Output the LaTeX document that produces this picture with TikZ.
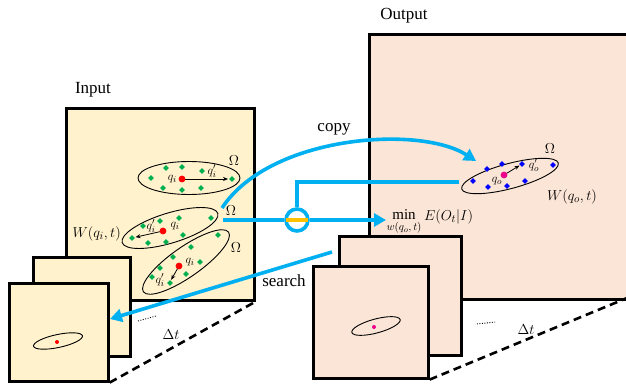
\documentclass[tikz,border=0pt]{standalone}
\usepackage{fontspec}
\setmainfont{Liberation Serif}
\usetikzlibrary{arrows.meta,shapes.geometric,calc}
\definecolor{infill}{HTML}{FFF2CC}
\definecolor{outfill}{HTML}{FBE5D6}
\definecolor{arrblue}{HTML}{00B0F0}
\definecolor{gdot}{HTML}{00B050}
\definecolor{orng}{HTML}{FFC000}
\newcommand\gdmark[2]{\fill[#1] (#2) +(0,-2.8) -- +(2.8,0) -- +(0,2.8) -- +(-2.8,0) -- cycle;}
\begin{document}
\begin{tikzpicture}[x=1pt,y=-1pt,
  inframe/.style={draw=black,line width=2.6pt,fill=infill,inner sep=0pt,anchor=north west},
  outframe/.style={draw=black,line width=2.6pt,fill=outfill,inner sep=0pt,anchor=north west},
  ell/.style={draw=black,line width=0.9pt},
  smallarr/.style={draw=black,line width=0.8pt,-{Stealth[length=5pt,width=4pt]}},
  bigarrow/.style={draw=arrblue,line width=3.6pt,-{Triangle[length=12pt,width=13pt]}},
  blueline/.style={draw=arrblue,line width=3.6pt},
  bigtxt/.style={font=\fontsize{17}{20}\selectfont,inner sep=0pt},
  mtxt/.style={font=\fontsize{15}{17}\selectfont,inner sep=0pt},
  subtxt/.style={font=\fontsize{11}{13}\selectfont,inner sep=0pt},
  qtxt/.style={font=\fontsize{13}{15}\selectfont,inner sep=0pt},
  dashln/.style={draw=black,line width=2.6pt,dash pattern=on 8pt off 5pt},
  dotln/.style={draw=black,line width=0.9pt,dash pattern=on 0.9pt off 1.6pt}
]
\useasboundingbox (0,0) rectangle (626,385);

% ---------- Input big frame ----------
\node[inframe,minimum width=188pt,minimum height=192pt] (inbig) at (65,107) {};

% ellipse 1
\draw[ell] (189,178) ellipse [x radius=51, y radius=16.5];
\foreach \x/\y in {151/178,166/168,182/167,202/171,163/188,182/190,201/188} {\gdmark{gdot}{\x,\y}}
\coordinate (r1) at (182,179);
\coordinate (g1) at (232,179);
\gdmark{gdot}{g1}
\node[qtxt,anchor=east] (q1) at (177,179) {$q_i$};
\node[qtxt] (q1p) at (212,171) {$q_i'$};
\node[mtxt] (om1) at (234,161) {$\Omega$};

% ellipse 2
\draw[ell,rotate around={17:(170,228)}] (170,228) ellipse [x radius=50, y radius=15];
\foreach \x/\y in {160/221,179/218,211/218,143/226,148/243,166/242,183/235} {\gdmark{gdot}{\x,\y}}
\coordinate (r2) at (163,231);
\coordinate (g2) at (132,238);
\gdmark{gdot}{g2}
\node[qtxt] (q2p) at (151,226) {$q_i'$};
\node[qtxt] (q2) at (175,226) {$q_i$};
\node[mtxt] (om2) at (231,211) {$\Omega$};
\node[mtxt,anchor=east] (win) at (121,234) {$W(q_i,t)$};

% ellipse 3
\draw[ell,rotate around={35:(186,262)}] (186,262) ellipse [x radius=52, y radius=15];
\foreach \x/\y in {218/235,191/247,173/257,200/262,160/268,186/274,152/277} {\gdmark{gdot}{\x,\y}}
\coordinate (r3) at (179,266);
\coordinate (g3) at (170,283);
\gdmark{gdot}{g3}
\node[qtxt] (q3) at (190,262) {$q_i$};
\node[qtxt] (q3p) at (160,280) {$q_i'$};
\node[mtxt] (om3) at (236,248) {$\Omega$};

\draw[smallarr] (r1) -- ($(g1)+(-4,0)$);
\draw[smallarr] (r2) -- ($(g2)+(3.5,-0.8)$);
\draw[smallarr] (r3) -- ($(g3)+(1.2,-3.2)$);
\fill[red] (r1) circle (3.4);
\fill[red] (r2) circle (3.4);
\fill[red] (r3) circle (3.4);

% input small frames
\node[inframe,minimum width=97pt,minimum height=99pt] (inback) at (32,256) {};
\node[inframe,minimum width=99pt,minimum height=98pt] (infront) at (8,282) {};
\draw[ell,rotate around={12:(58,341)}] (58,341) ellipse [x radius=25, y radius=6.5];
\fill[red] (57,342) circle (2);

% ---------- Output big frame ----------
\node[outframe,minimum width=259pt,minimum height=265pt] (outbig) at (368,33) {};
\draw[ell,rotate around={15:(510,176)}] (510,176) ellipse [x radius=50, y radius=12.5];
\foreach \x/\y in {487/169,502/164,553/165,473/181,488/187,507/186,525/181} {\gdmark{blue}{\x,\y}}
\coordinate (ro) at (504,175);
\coordinate (bo) at (522,164);
\gdmark{blue}{bo}
\draw[smallarr] (ro) -- ($(bo)+(-2.5,1.5)$);
\fill[magenta] (ro) circle (3.4);
\node[qtxt] (qo) at (497,181) {$q_o$};
\node[qtxt] (qop) at (534,165) {$q_o'$};
\node[mtxt] (omo) at (550,149) {$\Omega$};
\node[mtxt] (wout) at (572,197) {$W(q_o,t)$};

% output small frames
\node[outframe,minimum width=122pt,minimum height=119pt] (outback) at (338,235) {};
\node[outframe,minimum width=115pt,minimum height=112pt] (outfront) at (312,265) {};
\draw[ell,rotate around={15:(376,326)}] (376,326) ellipse [x radius=25, y radius=7];
\fill[magenta] (374,327) circle (2);

% ---------- blue connectors ----------
\coordinate (cpstart) at (222,208);
\coordinate (cpend) at (476,161);
\draw[bigarrow] (cpstart) .. controls (270,135) and (420,125) .. (cpend);

\node[circle,draw=arrblue,line width=3.6pt,minimum size=22pt,inner sep=0pt] (comb) at (297,220) {};
\draw[draw=orng,line width=3.6pt] ($(comb.west)+(2,0)$) -- ($(comb.east)+(-2,0)$);
\coordinate (hstart) at (223,220);
\coordinate (fbend) at (297,182);
\coordinate (fbend2) at (459,182);
\coordinate (minend) at (386,220);
\draw[blueline] (hstart) -- (comb.west);
\draw[blueline] (comb.north) -- (fbend) -- (fbend2);
\draw[bigarrow] (comb.east) -- (minend);
\node[mtxt] (minop) at (404,215) {$\min$};
\node[subtxt] (minsub) at (404,228) {$w(q_o,t)$};
\node[mtxt,anchor=west] (minexp) at (424,217) {$E(O_t|I)$};

\coordinate (srstart) at (332,252);
\coordinate (srend) at (110,319);
\draw[bigarrow] (srstart) -- (srend);

% ---------- dashed time axes ----------
\draw[dashln] (infront.south east) -- (inbig.south east);
\draw[dashln] (outfront.south east) -- (627,298);
\draw[dotln] (138,321) -- (156,316);
\draw[dotln] (477,324) -- (495,322);
\node[mtxt] (dtin) at (171,335) {$\Delta t$};
\node[mtxt] (dtout) at (526,330) {$\Delta t$};

% ---------- labels ----------
\node[bigtxt] (lin) at (93,90) {Input};
\node[bigtxt] (lout) at (404,16) {Output};
\node[bigtxt] (lcopy) at (334,129) {copy};
\node[bigtxt] (lsearch) at (284,281) {search};
\end{tikzpicture}
\end{document}
